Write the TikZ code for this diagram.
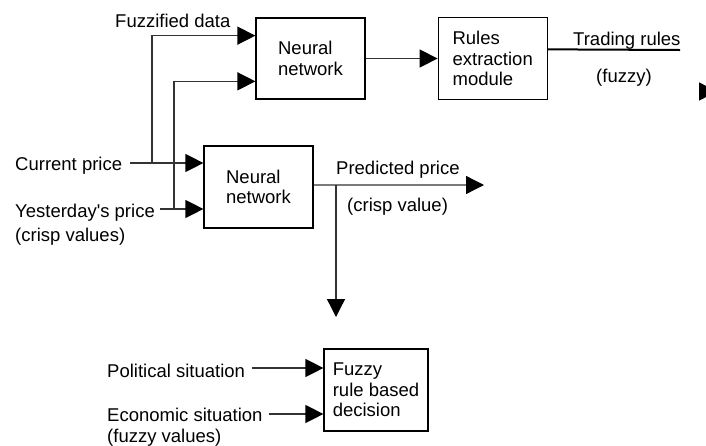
\documentclass[tikz,border=0pt]{standalone}
\usepackage{fontspec}
\setmainfont{Liberation Sans}
\usepackage{tikz}
\usetikzlibrary{arrows.meta, positioning, calc}

\begin{document}
\begin{tikzpicture}[
    x=1pt, y=-1pt,
    font=\fontsize{18.5}{20.5}\selectfont,
    block/.style={rectangle, draw=black, line width=1.2pt,
                  minimum height=82pt, minimum width=109pt,
                  align=left, inner sep=0pt},
    lbl/.style={anchor=west, inner sep=0pt},
    arr/.style={-{Triangle[length=18pt, width=18pt, color=black]},
                line width=1.3pt, draw=black!80},
    wire/.style={line width=1.3pt, draw=black!80},
]
\useasboundingbox (0,0) rectangle (706,445);

%% Blocks
\node[block, minimum height=81pt] (nn1)   at (310.5,58.5) {Neural\\network};
\node[block, right=72pt of nn1]   (rules) {Rules\\extraction\\module};
\node[block]                      (nn2)   at (258.5,187) {Neural\\network};
\node[block, minimum width=104pt] (fuzzy) at (376,390) {Fuzzy\\rule based\\decision};

%% Labels
\node[lbl] (fuzz)      at (115,21)    {Fuzzified data};
\node[lbl] (cur)       at (15,166)    {Current price};
\node[lbl] (yest)      at (15,212.5)  {Yesterday\textquotesingle s price};
\node[lbl] (yestnote)  at (15,236.5)  {(crisp values)};
\node[lbl] (pred)      at (336,170)   {Predicted price};
\node[lbl] (prednote)  at (347,206.5) {(crisp value)};
\node[lbl] (trade)     at (573,40.5)  {Trading rules};
\node[lbl] (tradenote) at (596,77.5)  {(fuzzy)};
\node[lbl] (pol)       at (107,370.5) {Political situation};
\node[lbl] (eco)       at (107,414.5) {Economic situation};
\node[lbl] (econote)   at (107,437.5) {(fuzzy values)};

%% Wire ends and branch points
\coordinate (curS)  at (130,163);
\coordinate (curB)  at (152,163);
\coordinate (yestS) at (160,209);
\coordinate (yestB) at (174,209);
\coordinate (predS) at ($(nn2.north east)!.476!(nn2.south east)$);
\coordinate (predE) at (484,185);
\coordinate (predB) at (336,185);
\coordinate (predD) at (336,317);
\coordinate (trS)   at ($(rules.north east)!.39!(rules.south east)$);
\coordinate (trE)   at (680,50);
\coordinate (trTip) at (699,91.5);
\coordinate (polS)  at (252,368);
\coordinate (ecoS)  at (269,414);

%% Arrows
\draw[arr] (curS)  -- (curS -| nn2.west);
\draw[arr] (curB)  |- ($(nn1.north west)!.222!(nn1.south west)$);
\draw[arr] (yestS) -- (yestS -| nn2.west);
\draw[arr] (yestB) |- ($(nn1.north west)!.778!(nn1.south west)$);
\draw[arr] (nn1)   -- (rules);
\draw[arr] (predS) -- (predE);
\draw[arr] (predB) -- (predD);
\draw[wire, draw=black, line width=2pt] (trS) -- (trE);
\draw[arr] (trTip) -- ++(18,0);
\draw[arr] (polS)  -- (polS -| fuzzy.west);
\draw[arr] (ecoS)  -- (ecoS -| fuzzy.west);
\end{tikzpicture}
\end{document}
